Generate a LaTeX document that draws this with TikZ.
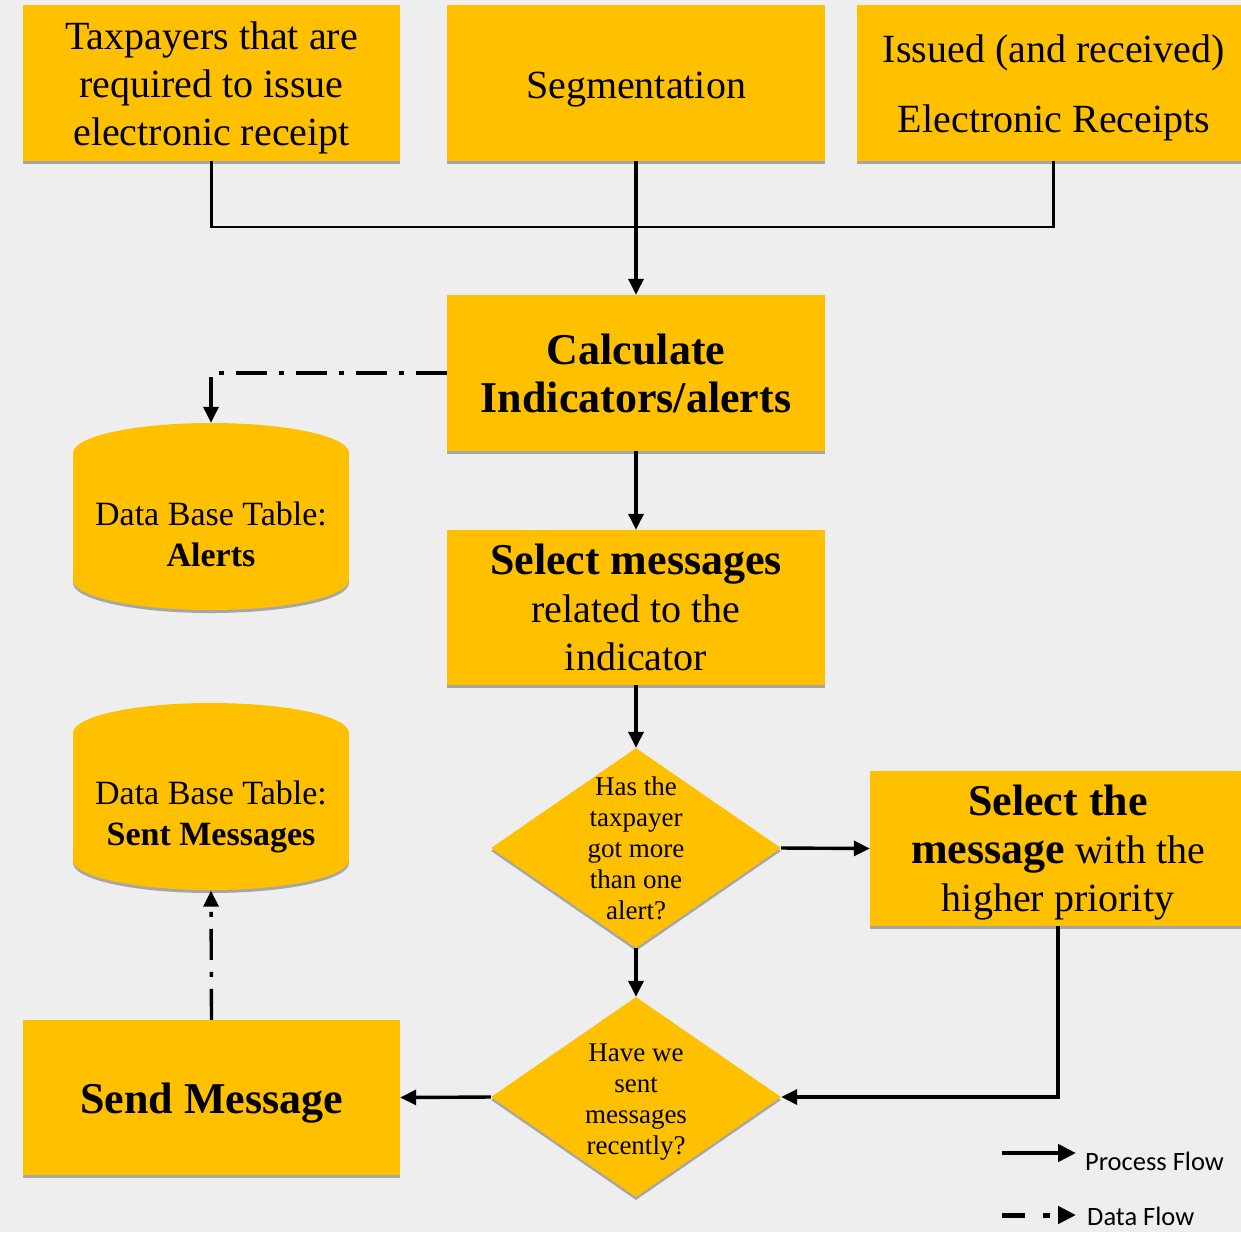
\documentclass[tikz,border=0pt]{standalone}
\usepackage{fontspec}
\setmainfont{Liberation Serif}
\newfontfamily\legendfont{Carlito}
\usetikzlibrary{arrows.meta,shapes.geometric,shadows}
\definecolor{gold}{RGB}{255,192,0}
\definecolor{bgc}{RGB}{238,238,238}
\newcommand\bigrm{\fontsize{40}{48}\selectfont}
\newcommand\bigbf{\fontsize{44}{48}\selectfont\bfseries}
\newcommand\cylrm{\fontsize{34}{41}\selectfont}
\newcommand\diarm{\fontsize{27}{31}\selectfont}
\begin{document}
\begin{tikzpicture}[x=1pt,y=-1pt,
  shad/.style={drop shadow={shadow xshift=0pt, shadow yshift=-3pt, opacity=.3, fill=black}},
  box/.style={rectangle, fill=gold, inner sep=0pt, shad},
  boxtext/.style={align=center, inner sep=0pt, font=\bigrm},
  dia/.style={diamond, fill=gold, inner sep=0pt, minimum width=290pt, minimum height=200pt, shad},
  diatext/.style={align=center, inner sep=0pt, font=\diarm},
  cyltext/.style={align=center, inner sep=0pt, font=\cylrm},
  ghost/.style={inner sep=0pt, minimum width=276pt, minimum height=188pt},
  proc/.style={line width=3.4pt, -{Triangle[length=16pt,width=15pt]}},
  thinln/.style={line width=2.2pt},
  datafl/.style={line width=3.4pt, dash pattern=on 31pt off 12pt on 5pt off 12pt, -{Triangle[length=16pt,width=15pt]}},
  legtext/.style={anchor=base west, inner sep=0pt, font=\legendfont\fontsize{26.5}{30}\selectfont}
]
\fill[bgc] (0,0) rectangle (1241,1232);
\useasboundingbox (0,0) rectangle (1241,1232);

% top row
\node[box, minimum width=377pt, minimum height=156pt] (b1) at (211.5,83) {};
\node[boxtext] (b1t) at (211.5,88) {Taxpayers that are\\required to issue\\electronic receipt};
\node[box, minimum width=378pt, minimum height=156pt] (b2) at (636,83) {};
\node[boxtext] (b2t) at (636,90) {Segmentation};
\node[box, minimum width=393pt, minimum height=156pt] (b3) at (1053.5,83) {};
\node[boxtext, font=\fontsize{40}{70}\selectfont] (b3t) at (1054,88) {Issued (and received)\\Electronic Receipts};

% middle column
\node[box, minimum width=378pt, minimum height=156pt] (calc) at (636,373) {};
\node[boxtext, font=\bigbf] (calct) at (636,373) {Calculate\\Indicators/alerts};
\node[box, minimum width=378pt, minimum height=155pt] (selm) at (636,607.5) {};
\node[boxtext] (selmt) at (636,607) {{\bigbf Select messages}\\related to the\\indicator};
\node[dia] (d1) at (636,848) {};
\node[diatext] (d1t) at (636,848) {Has the\\taxpayer\\got more\\than one\\alert?};
\node[dia] (d2) at (636,1097) {};
\node[diatext] (d2t) at (636,1102) {Have we\\sent\\messages\\recently?};
\node[box, minimum width=376pt, minimum height=155pt] (selp) at (1058,848.5) {};
\node[boxtext] (selpt) at (1058,853) {{\bigbf Select the}\\{\bigbf message} with the\\higher priority};
\node[box, minimum width=377pt, minimum height=155pt] (send) at (211.5,1097.5) {};
\node[boxtext, font=\bigbf] (sendt) at (211.5,1103) {Send Message};

% cylinders
\fill[gold, shad] (211,580) ellipse[x radius=138, y radius=30];
\fill[gold] (73,453) rectangle (349,580);
\fill[gold] (211,453) ellipse[x radius=138, y radius=30];
\node[ghost] (alerts) at (211,517) {};
\node[cyltext] (alertst) at (211,534) {Data Base Table:\\\textbf{Alerts}};

\fill[gold, shad] (211,860) ellipse[x radius=138, y radius=30];
\fill[gold] (73,733) rectangle (349,860);
\fill[gold] (211,733) ellipse[x radius=138, y radius=30];
\node[ghost] (sent) at (211,796.5) {};
\node[cyltext] (sentt) at (211,817) {Data Base Table:\\\textbf{Sent Messages}};

% connectors
\draw[thinln] (b1.south) -- ++(0,66) -| (b3.south);
\draw[proc] (b2.south) -- (calc.north);
\draw[datafl] (calc.west) -| (alerts.north);
\draw[proc] (calc.south) -- (selm.north);
\draw[proc] (selm.south) -- (d1.north);
\draw[proc] (d1.east) -- (selp.west);
\draw[proc] (d1.south) -- (d2.north);
\draw[proc] (selp.south) |- (d2.east);
\draw[proc] (d2.west) -- (send.east);
\draw[datafl] (send.north) -- (sent.south);

% legend
\coordinate (lpA) at (1002,1153);
\coordinate (lpB) at (1076,1153);
\draw[line width=4.5pt, -{Triangle[length=18pt,width=17pt]}] (lpA) -- (lpB);
\node[legtext] (lpT) at (1085,1170) {Process Flow};
\coordinate (ldA) at (1002,1215);
\coordinate (ldB) at (1076,1215);
\draw[line width=5pt, dash pattern=on 23pt off 18pt on 7pt off 20pt, -{Triangle[length=18pt,width=17pt]}] (ldA) -- (ldB);
\node[legtext] (ldT) at (1087,1225) {Data Flow};
\end{tikzpicture}
\end{document}
